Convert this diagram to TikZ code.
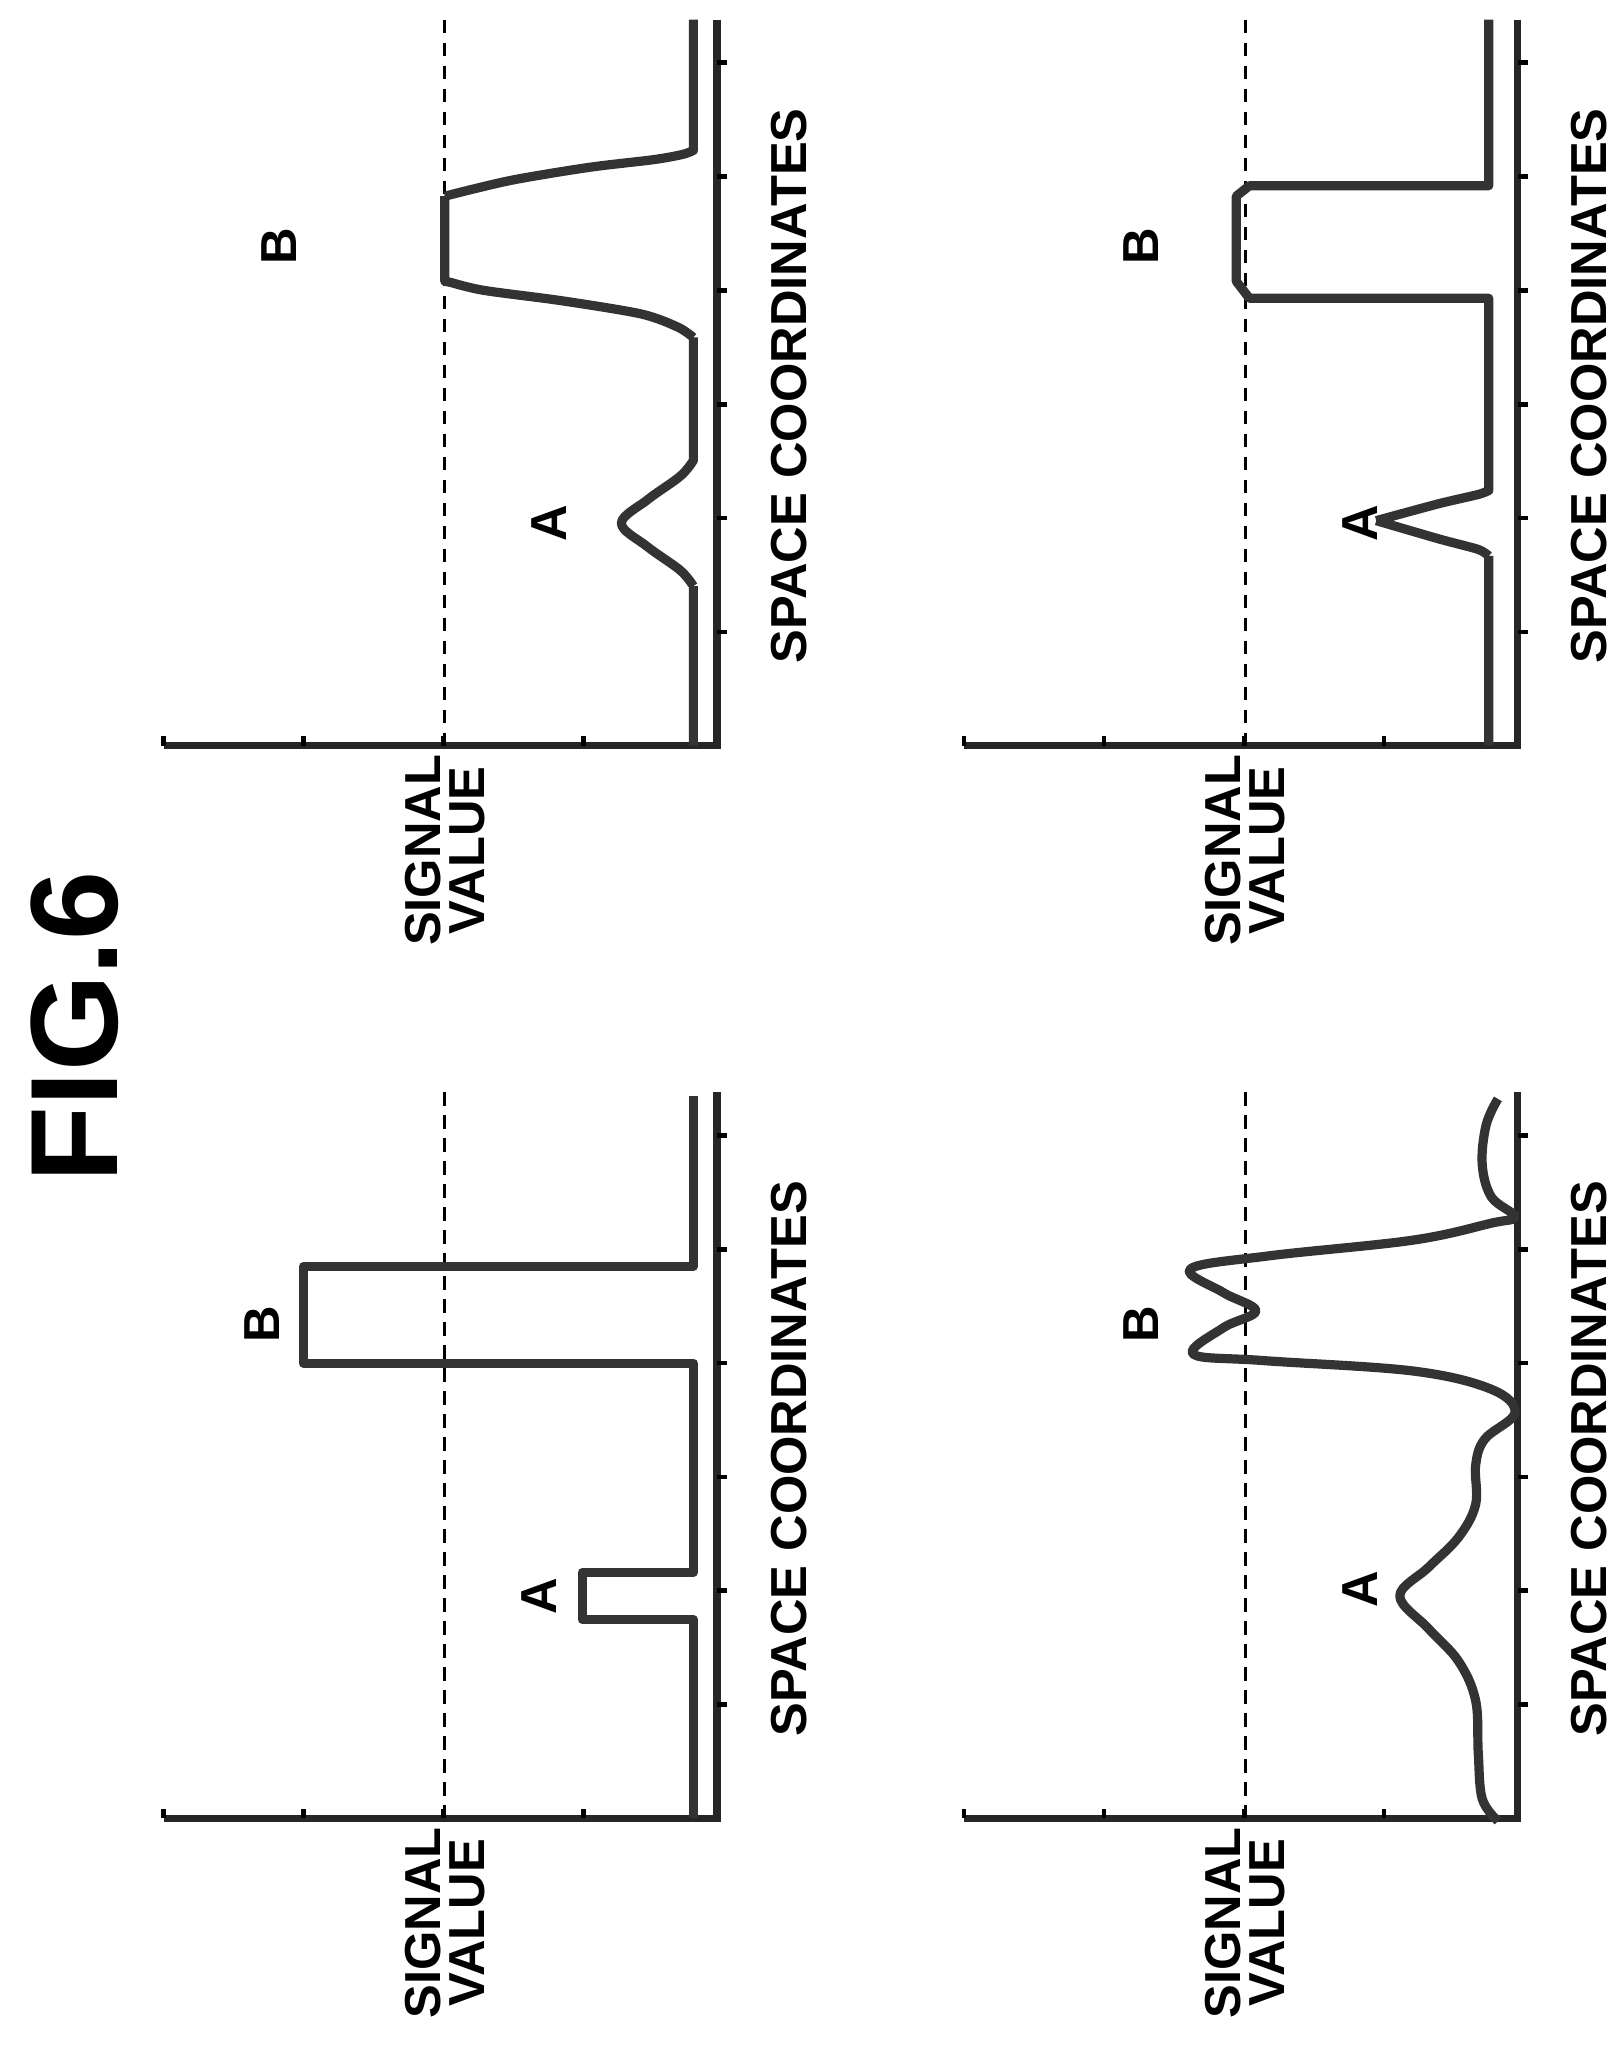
\documentclass[tikz,border=0pt]{standalone}
\usepackage{fontspec}
\setmainfont{Liberation Sans}
\begin{document}
\begin{tikzpicture}[x=0.01cm,y=-0.01cm,
 ax/.style={line width=1.6pt,black!85},
 th/.style={densely dashed,line width=0.6pt},
 cv/.style={line width=2pt,black!80,line join=round},
 lab/.style={rotate=90,font=\bfseries\fontsize{11}{11}\selectfont},
 tk/.style={line width=1pt}]
\useasboundingbox (0,0) rectangle (1240,1577);
\node[rotate=90,font=\bfseries\fontsize{27}{27}\selectfont] (fig) at (57,785) {FIG.6};
\foreach \X/\Ya/\Yb/\n in {548/835/1390/a,548/15/570/b,1160/835/1390/c,1160/15/570/d}{
 \draw[ax] (\X,\Ya) -- (\X,\Yb) -- (\X-423,\Yb);
 \draw[th] (\X-208,\Ya) -- (\X-208,\Yb);
 \foreach \k in {0,1,2,3} \draw[tk] (\X-423+\k*107,\Yb) -- ++(0,-7);
 \foreach \k in {1,...,6} \draw[tk] (\X,\Yb-\k*87) -- ++(8,0);
 \node[lab] at (\X+55,\Yb-275) {SPACE COORDINATES};
 \node[lab,align=center,font=\bfseries\fontsize{11}{9.5}\selectfont] at (\X-208,\Yb+80) {SIGNAL\\VALUE};
}
\node[lab] (a1) at (412,1220) {A}; \node[lab] (b1) at (200,1012) {B};
\node[lab] (a2) at (420,400) {A}; \node[lab] (b2) at (213,188) {B};
\node[lab] (a3) at (1040,1215) {A}; \node[lab] (b3) at (872,1012) {B};
\node[lab] (a4) at (1040,400) {A}; \node[lab] (b4) at (872,188) {B};
\draw[cv] (530,1390) -- (530,1238) -- (445,1238) -- (445,1202) -- (530,1202) -- (530,1042) -- (232,1042) -- (232,968) -- (530,968) -- (530,838);
\draw[cv] (530,570) -- (530,448) plot[smooth,tension=0.6] coordinates {(530,448)(520,436)(495,418)(475,400)(495,382)(520,364)(530,352)} -- (530,258)
 plot[smooth,tension=0.5] coordinates {(530,258)(518,250)(490,240)(430,230)(370,222)(345,216)} -- (340,215) -- (340,150)
 plot[smooth,tension=0.5] coordinates {(340,150)(390,138)(450,128)(500,122)(522,118)(530,115)} -- (530,15);
\draw[cv] plot[smooth,tension=0.6] coordinates {(1145,1392)(1133,1375)(1130,1340)(1128,1300)(1115,1270)(1092,1245)(1070,1220)(1092,1198)(1115,1175)(1128,1150)(1128,1120)(1135,1100)(1158,1080)(1140,1062)(1080,1048)(965,1040)(912,1035)(935,1015)(960,1002)(935,988)(910,970)(970,960)(1080,948)(1140,935)(1158,930)(1140,915)(1133,890)(1136,860)(1145,840)};
\draw[cv] (1138,570) -- (1138,425) plot[smooth,tension=0.4] coordinates {(1138,425)(1130,420)(1100,412)(1052,398)} plot[smooth,tension=0.4] coordinates {(1052,398)(1100,385)(1130,378)(1138,375)} -- (1138,228) -- (955,228) -- (945,215) -- (945,150) -- (955,142) -- (1138,142) -- (1138,15);
\end{tikzpicture}
\end{document}
